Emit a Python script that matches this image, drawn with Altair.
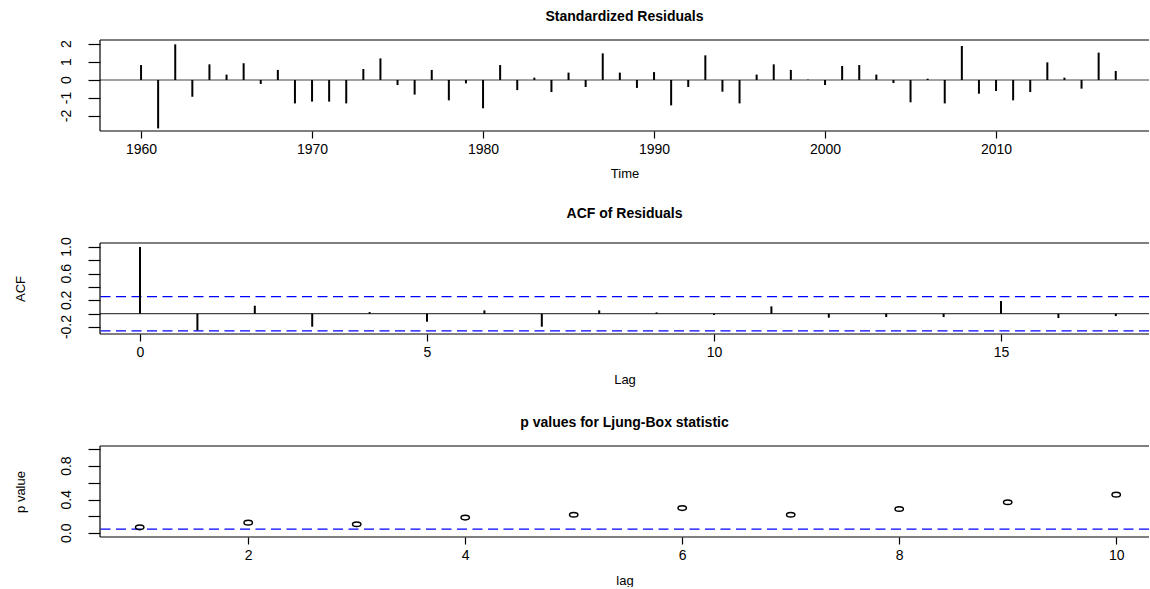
import altair as alt
import pandas as pd

# Standardized residuals, one per year
years = list(range(1960, 2018))
std_resid = [0.83, -2.69, 1.98, -0.93, 0.87, 0.30, 0.93, -0.22, 0.56, -1.30,
             -1.20, -1.20, -1.30, 0.61, 1.20, -0.28, -0.81, 0.56, -1.13, -0.19,
             -1.57, 0.83, -0.56, 0.13, -0.67, 0.41, -0.39, 1.48, 0.41, -0.44,
             0.44, -1.41, -0.39, 1.37, -0.65, -1.30, 0.30, 0.87, 0.56, 0.02,
             -0.28, 0.78, 0.83, 0.30, -0.17, -1.24, 0.07, -1.30, 1.89, -0.76,
             -0.61, -1.13, -0.67, 0.98, 0.13, -0.48, 1.52, 0.50]
resid_ticks = [-2, -1, 0, 1, 2]
resid_tick_labels = ["-2", "-1", "0", "1", "2"]

# Autocorrelation of the residuals
acf_lags = list(range(18))
acf_vals = [1.0, -0.25, 0.12, -0.195, 0.025, -0.12, 0.05, -0.195, 0.05, 0.02,
            -0.02, 0.11, -0.06, -0.05, -0.05, 0.19, -0.065, -0.035]
acf_bounds = [0.257, -0.257]
acf_ticks = [-0.2, 0.0, 0.2, 0.4, 0.6, 0.8, 1.0]
acf_label_vals = [-0.2, 0.2, 0.6, 1.0]
acf_tick_labels = ["-0.2", "0.2", "0.6", "1.0"]

# Ljung-Box p values
lb_lags = list(range(1, 11))
lb_pvals = [0.071, 0.127, 0.107, 0.187, 0.22, 0.30, 0.22, 0.29, 0.37, 0.46]
sig_level = [0.05]
p_ticks = [0.0, 0.2, 0.4, 0.6, 0.8, 1.0]
p_label_vals = [0.0, 0.4, 0.8]
p_tick_labels = ["0.0", "0.4", "0.8"]

W, H = 1049, 91
FONT = "Liberation Sans"

resid_df = pd.DataFrame({"year": years, "resid": std_resid})
acf_df = pd.DataFrame({"lag": acf_lags, "acf": acf_vals})
bound_df = pd.DataFrame({"b": acf_bounds})
lb_df = pd.DataFrame({"lag": lb_lags, "p": lb_pvals})
sig_df = pd.DataFrame({"s": sig_level})
zero_df = pd.DataFrame({"z": [0.0]})


def x_axis(values, title, fmt, title_y=42):
    return alt.Axis(values=values, title=title, format=fmt, tickSize=7,
                    labelBaseline="middle", labelPadding=11, labelOverlap=False,
                    titleY=title_y, titleX=W / 2, titleBaseline="middle",
                    titleAlign="center")


def y_axis(values, title):
    kw = dict(values=values, labels=False, tickSize=12)
    if title:
        kw.update(title=title, titleX=-80, titleY=H / 2, titleAngle=-90,
                  titleBaseline="middle", titleAlign="center")
    else:
        kw.update(title=None)
    return alt.Axis(**kw)


def y_labels(values, texts, field, scale, axis):
    # rotated tick labels sitting left of the y ticks
    df = pd.DataFrame({field: values, "label": texts})
    return alt.Chart(df).mark_text(
        angle=270, align="center", baseline="middle", font=FONT, fontSize=14,
        color="black"
    ).encode(
        y=alt.Y(f"{field}:Q", scale=scale, axis=axis),
        x=alt.value(-33),
        text="label:N",
    )


def panel_title(text, offset):
    return alt.TitleParams(text=text, fontSize=14, fontWeight="bold", font=FONT,
                           anchor="middle", frame="group", offset=offset,
                           color="black")


def frame():
    # left, top and bottom edges of the plotting box
    edge = alt.Chart(zero_df).mark_rule(color="black", strokeWidth=1.2)
    return [
        edge.encode(x=alt.value(0), y=alt.value(0), y2=alt.value(H)),
        edge.encode(y=alt.value(0), x=alt.value(0), x2=alt.value(W)),
        edge.encode(y=alt.value(H), x=alt.value(0), x2=alt.value(W)),
    ]


# --- Standardized residuals -------------------------------------------------
xs1 = alt.Scale(domain=[1957.6, 1957.6 + W / 17.1], nice=False, zero=False)
ys1 = alt.Scale(domain=[-2.833, 2.222], nice=False, zero=False)
ya1 = y_axis(resid_ticks, None)
spikes1 = alt.Chart(resid_df).mark_rule(color="black", strokeWidth=2).encode(
    x=alt.X("year:Q", scale=xs1,
            axis=x_axis(list(range(1960, 2011, 10)), "Time", "d")),
    y=alt.Y("resid:Q", scale=ys1, axis=ya1),
    y2=alt.datum(0),
)
zero1 = alt.Chart(zero_df).mark_rule(color="#444", strokeWidth=1.2).encode(
    y=alt.Y("z:Q", scale=ys1, axis=ya1))
lab1 = y_labels(resid_ticks, resid_tick_labels, "resid", ys1, ya1)
top = alt.layer(zero1, spikes1, lab1, *frame()).properties(
    width=W, height=H, title=panel_title("Standardized Residuals", 15))

# --- ACF of residuals -------------------------------------------------------
xs2 = alt.Scale(domain=[-0.697, -0.697 + W / 57.4], nice=False, zero=False)
ys2 = alt.Scale(domain=[-0.304, 1.06], nice=False, zero=False)
ya2 = y_axis(acf_ticks, "ACF")
spikes2 = alt.Chart(acf_df).mark_rule(color="black", strokeWidth=2).encode(
    x=alt.X("lag:Q", scale=xs2, axis=x_axis([0, 5, 10, 15], "Lag", "d", 45)),
    y=alt.Y("acf:Q", scale=ys2, axis=ya2),
    y2=alt.datum(0),
)
zero2 = alt.Chart(zero_df).mark_rule(color="#444", strokeWidth=1.2).encode(
    y=alt.Y("z:Q", scale=ys2, axis=ya2))
ci2 = alt.Chart(bound_df).mark_rule(color="blue", strokeWidth=1.2,
                                    strokeDash=[10, 5.5]).encode(
    y=alt.Y("b:Q", scale=ys2, axis=ya2))
lab2 = y_labels(acf_label_vals, acf_tick_labels, "acf", ys2, ya2)
mid = alt.layer(zero2, ci2, spikes2, lab2, *frame()).properties(
    width=W, height=H, title=panel_title("ACF of Residuals", 16))

# --- Ljung-Box p values -----------------------------------------------------
xs3 = alt.Scale(domain=[0.634, 0.634 + W / 108.5], nice=False, zero=False)
ys3 = alt.Scale(domain=[-0.044, 1.039], nice=False, zero=False)
ya3 = y_axis(p_ticks, "p value")
ellipse = "M -1 0 A 1 0.55 0 1 1 1 0 A 1 0.55 0 1 1 -1 0 Z"
pts = alt.Chart(lb_df).mark_point(shape=ellipse, filled=False, color="black",
                                  strokeWidth=1.5, size=70, opacity=1).encode(
    x=alt.X("lag:Q", scale=xs3, axis=x_axis([2, 4, 6, 8, 10], "lag", "d", 43)),
    y=alt.Y("p:Q", scale=ys3, axis=ya3),
)
sig = alt.Chart(sig_df).mark_rule(color="blue", strokeWidth=1.2,
                                  strokeDash=[10, 5.5]).encode(
    y=alt.Y("s:Q", scale=ys3, axis=ya3))
lab3 = y_labels(p_label_vals, p_tick_labels, "p", ys3, ya3)
bot = alt.layer(sig, pts, lab3, *frame()).properties(
    width=W, height=H, title=panel_title("p values for Ljung-Box statistic", 15))

chart = alt.vconcat(top, mid, bot, spacing=112, bounds="flush").properties(
    padding={"left": 14, "top": 10, "right": 0, "bottom": 0},
    background="white",
).configure_view(
    stroke=None
).configure_axis(
    domain=False, grid=False, tickColor="black", tickWidth=1.2,
    labelFont=FONT, labelFontSize=14, labelColor="black",
    titleFont=FONT, titleFontSize=13, titleColor="black", titleFontWeight="normal",
)

chart.save("out.html", embed_options={"renderer": "svg", "actions": False})
